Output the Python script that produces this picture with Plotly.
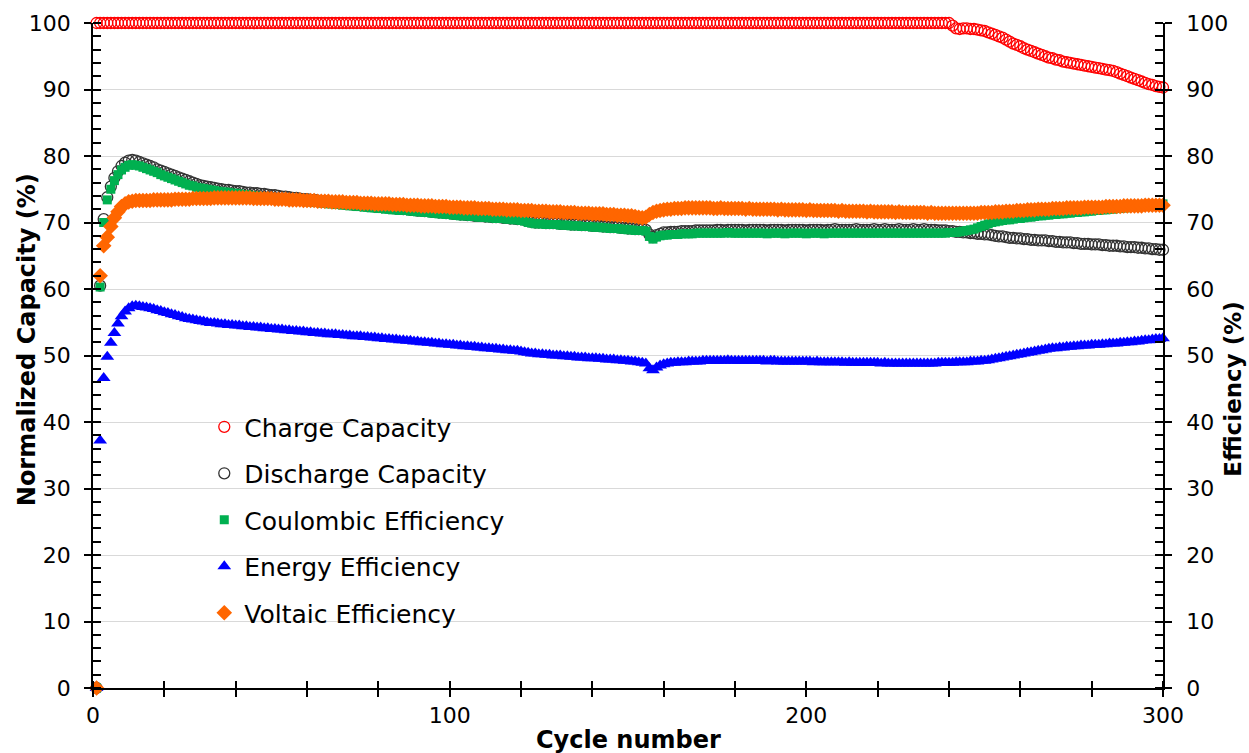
import plotly.graph_objects as go

cycles = list(range(1, 301))

charge_capacity = [
    100, 100, 100, 100, 100, 100, 100, 100, 100, 100,
    100, 100, 100, 100, 100, 100, 100, 100, 100, 100,
    100, 100, 100, 100, 100, 100, 100, 100, 100, 100,
    100, 100, 100, 100, 100, 100, 100, 100, 100, 100,
    100, 100, 100, 100, 100, 100, 100, 100, 100, 100,
    100, 100, 100, 100, 100, 100, 100, 100, 100, 100,
    100, 100, 100, 100, 100, 100, 100, 100, 100, 100,
    100, 100, 100, 100, 100, 100, 100, 100, 100, 100,
    100, 100, 100, 100, 100, 100, 100, 100, 100, 100,
    100, 100, 100, 100, 100, 100, 100, 100, 100, 100,
    100, 100, 100, 100, 100, 100, 100, 100, 100, 100,
    100, 100, 100, 100, 100, 100, 100, 100, 100, 100,
    100, 100, 100, 100, 100, 100, 100, 100, 100, 100,
    100, 100, 100, 100, 100, 100, 100, 100, 100, 100,
    100, 100, 100, 100, 100, 100, 100, 100, 100, 100,
    100, 100, 100, 100, 100, 100, 100, 100, 100, 100,
    100, 100, 100, 100, 100, 100, 100, 100, 100, 100,
    100, 100, 100, 100, 100, 100, 100, 100, 100, 100,
    100, 100, 100, 100, 100, 100, 100, 100, 100, 100,
    100, 100, 100, 100, 100, 100, 100, 100, 100, 100,
    100, 100, 100, 100, 100, 100, 100, 100, 100, 100,
    100, 100, 100, 100, 100, 100, 100, 100, 100, 100,
    100, 100, 100, 100, 100, 100, 100, 100, 100, 100,
    100, 100, 100, 100, 100, 100, 100, 100, 100, 100,
    99.6, 99.2, 99.1, 99.2, 99.2, 99.1, 99.1, 99.0, 98.9, 98.8,
    98.6, 98.4, 98.2, 98.0, 97.8, 97.5, 97.2, 96.9, 96.7, 96.5,
    96.2, 96.0, 95.8, 95.6, 95.4, 95.2, 95.0, 94.8, 94.7, 94.5,
    94.4, 94.2, 94.1, 94.0, 93.9, 93.8, 93.7, 93.6, 93.5, 93.4,
    93.3, 93.2, 93.1, 93.0, 92.9, 92.8, 92.6, 92.4, 92.2, 92.0,
    91.8, 91.6, 91.4, 91.2, 91.0, 90.8, 90.7, 90.5, 90.4, 90.3,
]

discharge_capacity = [
    0.0, 60.5, 70.5, 73.8, 75.4, 76.7, 77.7, 78.5, 79.0, 79.3,
    79.4, 79.3, 79.1, 78.9, 78.7, 78.5, 78.3, 78.0, 77.8, 77.6,
    77.4, 77.2, 77.0, 76.8, 76.6, 76.4, 76.2, 76.0, 75.8, 75.6,
    75.5, 75.4, 75.3, 75.2, 75.1, 75.0, 74.9, 74.9, 74.8, 74.7,
    74.7, 74.6, 74.5, 74.5, 74.4, 74.4, 74.3, 74.3, 74.2, 74.1,
    74.1, 74.0, 73.9, 73.9, 73.8, 73.7, 73.7, 73.6, 73.5, 73.5,
    73.4, 73.4, 73.3, 73.2, 73.2, 73.1, 73.1, 73.0, 72.9, 72.9,
    72.8, 72.8, 72.7, 72.7, 72.6, 72.6, 72.5, 72.5, 72.4, 72.4,
    72.3, 72.3, 72.2, 72.2, 72.1, 72.1, 72.0, 72.0, 71.9, 71.9,
    71.8, 71.8, 71.7, 71.7, 71.6, 71.6, 71.5, 71.5, 71.4, 71.4,
    71.3, 71.3, 71.2, 71.2, 71.1, 71.1, 71.0, 71.0, 71.0, 70.9,
    70.9, 70.8, 70.8, 70.8, 70.7, 70.7, 70.6, 70.6, 70.5, 70.5,
    70.4, 70.2, 70.1, 70.0, 70.0, 70.0, 69.9, 69.9, 69.9, 69.9,
    69.8, 69.8, 69.8, 69.7, 69.7, 69.7, 69.6, 69.6, 69.6, 69.5,
    69.5, 69.5, 69.4, 69.4, 69.3, 69.3, 69.3, 69.2, 69.2, 69.1,
    69.1, 69.0, 69.0, 69.0, 68.9, 68.2, 67.8, 68.1, 68.3, 68.5,
    68.5, 68.6, 68.6, 68.6, 68.7, 68.7, 68.7, 68.7, 68.8, 68.8,
    68.8, 68.8, 68.8, 68.8, 68.9, 68.9, 68.8, 68.9, 68.9, 68.9,
    68.9, 68.9, 68.8, 68.9, 68.9, 68.9, 68.9, 68.9, 68.8, 68.9,
    68.9, 68.9, 68.9, 68.8, 68.9, 68.9, 68.9, 68.9, 68.9, 68.8,
    68.9, 68.9, 68.9, 68.9, 68.8, 68.9, 68.9, 69.0, 68.9, 68.9,
    68.9, 68.9, 68.9, 69.0, 68.9, 68.9, 68.9, 68.9, 69.0, 68.9,
    68.9, 69.0, 68.9, 68.9, 68.9, 69.0, 68.9, 68.9, 68.9, 69.0,
    68.9, 68.9, 69.0, 68.9, 68.9, 68.9, 68.8, 68.8, 68.8, 68.7,
    68.7, 68.6, 68.6, 68.5, 68.5, 68.4, 68.4, 68.3, 68.3, 68.2,
    68.2, 68.1, 68.0, 67.9, 67.9, 67.8, 67.7, 67.7, 67.6, 67.6,
    67.5, 67.5, 67.4, 67.4, 67.3, 67.3, 67.3, 67.2, 67.2, 67.1,
    67.1, 67.0, 67.0, 67.0, 66.9, 66.9, 66.8, 66.8, 66.8, 66.7,
    66.7, 66.7, 66.6, 66.6, 66.5, 66.5, 66.5, 66.4, 66.4, 66.3,
    66.3, 66.3, 66.2, 66.2, 66.1, 66.1, 66.0, 66.0, 65.9, 65.9,
]

coulombic_efficiency = [
    0.0, 60.3, 70.0, 73.4, 75.0, 76.3, 77.2, 77.9, 78.3, 78.6,
    78.7, 78.6, 78.5, 78.3, 78.1, 77.9, 77.7, 77.5, 77.2, 77.0,
    76.8, 76.6, 76.4, 76.2, 76.0, 75.8, 75.6, 75.5, 75.3, 75.2,
    75.1, 75.0, 74.9, 74.8, 74.7, 74.6, 74.6, 74.5, 74.4, 74.4,
    74.3, 74.2, 74.2, 74.1, 74.0, 74.0, 73.9, 73.9, 73.8, 73.7,
    73.7, 73.6, 73.6, 73.5, 73.4, 73.4, 73.3, 73.3, 73.2, 73.1,
    73.1, 73.0, 73.0, 72.9, 72.9, 72.8, 72.8, 72.7, 72.7, 72.6,
    72.6, 72.5, 72.5, 72.4, 72.4, 72.3, 72.3, 72.2, 72.2, 72.1,
    72.1, 72.0, 72.0, 71.9, 71.9, 71.8, 71.8, 71.8, 71.7, 71.7,
    71.6, 71.6, 71.5, 71.5, 71.4, 71.4, 71.3, 71.3, 71.2, 71.2,
    71.1, 71.1, 71.0, 71.0, 71.0, 70.9, 70.9, 70.8, 70.8, 70.8,
    70.7, 70.7, 70.6, 70.6, 70.6, 70.5, 70.5, 70.4, 70.4, 70.3,
    70.2, 70.0, 69.9, 69.8, 69.8, 69.8, 69.7, 69.7, 69.7, 69.7,
    69.6, 69.6, 69.6, 69.5, 69.5, 69.5, 69.4, 69.4, 69.4, 69.3,
    69.3, 69.3, 69.2, 69.2, 69.1, 69.1, 69.1, 69.0, 69.0, 68.9,
    68.9, 68.8, 68.8, 68.8, 68.7, 67.9, 67.5, 67.8, 68.0, 68.1,
    68.1, 68.2, 68.2, 68.2, 68.3, 68.3, 68.3, 68.3, 68.4, 68.4,
    68.4, 68.4, 68.4, 68.4, 68.4, 68.4, 68.4, 68.5, 68.4, 68.4,
    68.4, 68.4, 68.4, 68.4, 68.4, 68.4, 68.4, 68.4, 68.3, 68.4,
    68.4, 68.4, 68.4, 68.3, 68.4, 68.4, 68.4, 68.4, 68.4, 68.3,
    68.4, 68.4, 68.4, 68.4, 68.3, 68.4, 68.4, 68.4, 68.4, 68.4,
    68.4, 68.4, 68.4, 68.4, 68.4, 68.4, 68.4, 68.4, 68.4, 68.4,
    68.4, 68.4, 68.4, 68.4, 68.4, 68.4, 68.4, 68.4, 68.4, 68.4,
    68.4, 68.4, 68.4, 68.4, 68.4, 68.4, 68.4, 68.4, 68.4, 68.5,
    68.5, 68.5, 68.6, 68.7, 68.8, 68.9, 69.0, 69.2, 69.4, 69.6,
    69.8, 70.0, 70.1, 70.2, 70.3, 70.4, 70.4, 70.5, 70.6, 70.6,
    70.7, 70.8, 70.8, 70.9, 71.0, 71.0, 71.1, 71.1, 71.2, 71.2,
    71.3, 71.3, 71.4, 71.4, 71.5, 71.5, 71.6, 71.6, 71.7, 71.7,
    71.8, 71.8, 71.9, 71.9, 72.0, 72.0, 72.1, 72.1, 72.2, 72.2,
    72.3, 72.3, 72.4, 72.4, 72.5, 72.5, 72.6, 72.6, 72.7, 72.8,
]

energy_efficiency = [
    0.0, 37.2, 46.6, 49.8, 51.9, 53.4, 54.8, 55.9, 56.6, 57.1,
    57.4, 57.5, 57.4, 57.3, 57.2, 57.1, 57.0, 56.8, 56.7, 56.5,
    56.4, 56.2, 56.1, 55.9, 55.8, 55.6, 55.5, 55.4, 55.3, 55.2,
    55.1, 55.0, 54.9, 54.9, 54.8, 54.7, 54.7, 54.6, 54.6, 54.5,
    54.5, 54.4, 54.4, 54.3, 54.3, 54.2, 54.2, 54.1, 54.1, 54.0,
    54.0, 53.9, 53.9, 53.8, 53.8, 53.7, 53.7, 53.6, 53.6, 53.5,
    53.5, 53.4, 53.4, 53.3, 53.3, 53.2, 53.2, 53.2, 53.1, 53.1,
    53.0, 53.0, 52.9, 52.9, 52.9, 52.8, 52.8, 52.7, 52.7, 52.6,
    52.6, 52.5, 52.5, 52.4, 52.4, 52.3, 52.3, 52.2, 52.2, 52.1,
    52.1, 52.0, 52.0, 51.9, 51.9, 51.8, 51.8, 51.7, 51.7, 51.6,
    51.6, 51.5, 51.5, 51.4, 51.4, 51.3, 51.3, 51.2, 51.2, 51.1,
    51.1, 51.0, 51.0, 50.9, 50.9, 50.8, 50.8, 50.7, 50.7, 50.6,
    50.5, 50.4, 50.3, 50.3, 50.2, 50.2, 50.1, 50.1, 50.0, 50.0,
    50.0, 49.9, 49.9, 49.8, 49.8, 49.7, 49.7, 49.7, 49.6, 49.6,
    49.6, 49.5, 49.5, 49.4, 49.4, 49.4, 49.3, 49.3, 49.2, 49.2,
    49.1, 49.1, 49.0, 48.9, 48.8, 48.1, 47.8, 48.2, 48.5, 48.7,
    48.8, 48.9, 48.9, 49.0, 49.0, 49.0, 49.1, 49.1, 49.1, 49.1,
    49.2, 49.2, 49.2, 49.2, 49.2, 49.2, 49.2, 49.3, 49.2, 49.2,
    49.2, 49.2, 49.2, 49.2, 49.2, 49.2, 49.2, 49.2, 49.1, 49.2,
    49.2, 49.1, 49.1, 49.1, 49.1, 49.1, 49.1, 49.1, 49.1, 49.1,
    49.1, 49.0, 49.1, 49.0, 49.0, 49.0, 49.0, 49.0, 49.0, 49.0,
    48.9, 49.0, 48.9, 48.9, 48.9, 48.9, 48.9, 48.9, 48.9, 48.9,
    48.8, 48.9, 48.8, 48.8, 48.8, 48.8, 48.8, 48.8, 48.8, 48.8,
    48.8, 48.8, 48.8, 48.8, 48.8, 48.8, 48.9, 48.9, 48.9, 48.9,
    48.9, 49.0, 49.0, 49.0, 49.0, 49.1, 49.1, 49.1, 49.2, 49.2,
    49.3, 49.4, 49.5, 49.6, 49.7, 49.8, 49.9, 50.0, 50.1, 50.2,
    50.3, 50.4, 50.5, 50.6, 50.7, 50.8, 50.9, 51.0, 51.1, 51.1,
    51.2, 51.2, 51.3, 51.3, 51.4, 51.4, 51.5, 51.5, 51.5, 51.6,
    51.6, 51.6, 51.7, 51.7, 51.8, 51.8, 51.8, 51.9, 51.9, 52.0,
    52.0, 52.1, 52.1, 52.2, 52.3, 52.3, 52.4, 52.5, 52.5, 52.6,
]

voltaic_efficiency = [
    0.0, 62.0, 66.5, 67.8, 69.4, 70.7, 71.6, 72.4, 72.8, 73.1,
    73.2, 73.3, 73.3, 73.3, 73.3, 73.3, 73.4, 73.4, 73.4, 73.4,
    73.4, 73.4, 73.5, 73.5, 73.5, 73.5, 73.5, 73.6, 73.6, 73.6,
    73.6, 73.6, 73.6, 73.7, 73.7, 73.7, 73.7, 73.7, 73.7, 73.7,
    73.7, 73.7, 73.7, 73.7, 73.6, 73.6, 73.6, 73.6, 73.6, 73.6,
    73.5, 73.5, 73.5, 73.5, 73.4, 73.4, 73.4, 73.4, 73.3, 73.3,
    73.3, 73.3, 73.2, 73.2, 73.2, 73.2, 73.1, 73.1, 73.1, 73.1,
    73.0, 73.0, 73.0, 73.0, 72.9, 72.9, 72.9, 72.9, 72.8, 72.8,
    72.8, 72.8, 72.8, 72.7, 72.7, 72.7, 72.7, 72.6, 72.6, 72.6,
    72.6, 72.5, 72.5, 72.5, 72.5, 72.4, 72.4, 72.4, 72.4, 72.3,
    72.3, 72.3, 72.3, 72.2, 72.2, 72.2, 72.2, 72.1, 72.1, 72.1,
    72.1, 72.0, 72.0, 72.0, 72.0, 71.9, 71.9, 71.9, 71.9, 71.8,
    71.8, 71.8, 71.8, 71.7, 71.7, 71.7, 71.7, 71.6, 71.6, 71.6,
    71.6, 71.5, 71.5, 71.5, 71.5, 71.4, 71.4, 71.4, 71.4, 71.3,
    71.3, 71.3, 71.3, 71.2, 71.2, 71.2, 71.1, 71.1, 71.1, 71.0,
    71.0, 70.9, 70.8, 70.7, 70.8, 71.2, 71.5, 71.7, 71.8, 71.9,
    72.0, 72.0, 72.1, 72.1, 72.1, 72.2, 72.2, 72.2, 72.2, 72.2,
    72.2, 72.2, 72.2, 72.1, 72.1, 72.2, 72.1, 72.1, 72.1, 72.1,
    72.1, 72.1, 72.0, 72.1, 72.0, 72.0, 72.0, 72.0, 72.0, 72.0,
    72.0, 71.9, 72.0, 71.9, 71.9, 71.9, 71.9, 71.9, 71.9, 71.8,
    71.9, 71.8, 71.8, 71.8, 71.8, 71.8, 71.8, 71.8, 71.7, 71.8,
    71.7, 71.7, 71.7, 71.7, 71.7, 71.7, 71.6, 71.7, 71.6, 71.6,
    71.6, 71.6, 71.6, 71.6, 71.5, 71.6, 71.5, 71.5, 71.5, 71.5,
    71.5, 71.5, 71.5, 71.4, 71.5, 71.4, 71.4, 71.4, 71.4, 71.4,
    71.4, 71.4, 71.4, 71.4, 71.4, 71.4, 71.4, 71.4, 71.5, 71.5,
    71.5, 71.5, 71.6, 71.6, 71.6, 71.7, 71.7, 71.7, 71.8, 71.8,
    71.8, 71.9, 71.9, 71.9, 72.0, 72.0, 72.0, 72.0, 72.1, 72.1,
    72.1, 72.1, 72.2, 72.2, 72.2, 72.2, 72.2, 72.3, 72.3, 72.3,
    72.3, 72.3, 72.3, 72.4, 72.4, 72.4, 72.4, 72.4, 72.5, 72.5,
    72.5, 72.5, 72.5, 72.5, 72.6, 72.6, 72.6, 72.6, 72.6, 72.6,
]

series_names = ["Charge Capacity", "Discharge Capacity", "Coulombic Efficiency",
                "Energy Efficiency", "Voltaic Efficiency"]

FONT = "DejaVu Sans"

fig = go.Figure()

styles = [
    (charge_capacity, "circle-open", "#FF0000", 11, 1.3, "y"),
    (discharge_capacity, "circle-open", "#333333", 11, 1.3, "y"),
    (coulombic_efficiency, "square", "#00B050", 9, 0, "y2"),
    (energy_efficiency, "triangle-up", "#0000FF", 12, 0, "y2"),
    (voltaic_efficiency, "diamond", "#FF6600", 12, 0, "y2"),
]

for i, (vals, sym, col, sz, lw, yax) in enumerate(styles):
    fig.add_trace(go.Scatter(
        x=cycles, y=vals, mode="markers", name=series_names[i],
        legendgroup=f"g{i}", yaxis=yax, cliponaxis=False,
        marker=dict(symbol=sym, color=col, size=sz,
                    line=dict(color=col, width=lw)),
    ))

x_tickvals = list(range(0, 301, 20))
x_ticktext = [str(v) if v % 100 == 0 else "" for v in x_tickvals]

title_font = dict(family=FONT, size=24, color="black")

fig.update_layout(
    width=1249, height=753,
    margin=dict(l=93, r=86, t=23, b=65, autoexpand=False),
    paper_bgcolor="white", plot_bgcolor="white",
    font=dict(family=FONT, color="black", size=22),
    showlegend=True,
    legend=dict(
        x=0.104, y=0.427, xanchor="left", yanchor="top",
        bgcolor="rgba(0,0,0,0)", font=dict(family=FONT, size=25, color="black"),
        traceorder="grouped", tracegroupgap=11, itemwidth=30,
    ),
    xaxis=dict(
        range=[0, 300], showgrid=False, zeroline=False, automargin=False,
        showline=True, linecolor="black", linewidth=2,
        tickmode="array", tickvals=x_tickvals, ticktext=x_ticktext,
        ticks="outside", ticklen=7, tickwidth=1.5, tickcolor="black",
        minor=dict(tickmode="linear", tick0=0, dtick=20, ticks="inside",
                   ticklen=7, tickwidth=1.5, tickcolor="black", showgrid=False),
        tickfont=dict(family=FONT, size=22),
    ),
    yaxis=dict(
        range=[0, 100], showgrid=True, gridcolor="#D9D9D9", gridwidth=1,
        zeroline=False, showline=True, linecolor="black", linewidth=1.5,
        automargin=False,
        tickmode="linear", tick0=0, dtick=10,
        ticks="outside", ticklen=7, tickwidth=1.5, tickcolor="black",
        minor=dict(tickmode="linear", tick0=0, dtick=2, ticks="inside",
                   ticklen=8, tickwidth=1.5, tickcolor="black", showgrid=False),
        tickfont=dict(family=FONT, size=22), ticklabelstandoff=9,
    ),
    yaxis2=dict(
        range=[0, 100], overlaying="y", side="right", showgrid=False,
        zeroline=False, showline=True, linecolor="black", linewidth=1.5,
        automargin=False,
        tickmode="linear", tick0=0, dtick=10,
        ticks="outside", ticklen=7, tickwidth=1.5, tickcolor="black",
        minor=dict(tickmode="linear", tick0=0, dtick=2, ticks="inside",
                   ticklen=8, tickwidth=1.5, tickcolor="black", showgrid=False),
        tickfont=dict(family=FONT, size=22), ticklabelstandoff=10,
    ),
    annotations=[
        dict(text="<b>Normalized Capacity (%)</b>", textangle=-90,
             xref="paper", yref="paper", x=0, y=0.523, xanchor="center",
             yanchor="middle", xshift=-66, showarrow=False, font=title_font),
        dict(text="<b>Efficiency (%)</b>", textangle=-90,
             xref="paper", yref="paper", x=1, y=0.45, xanchor="center",
             yanchor="middle", xshift=70, showarrow=False,
             font=dict(family=FONT, size=23, color="black")),
        dict(text="<b>Cycle number</b>",
             xref="paper", yref="paper", x=0.5, y=0, xanchor="center",
             yanchor="middle", yshift=-52, showarrow=False, font=title_font),
    ],
)

fig.write_html("out.html")
